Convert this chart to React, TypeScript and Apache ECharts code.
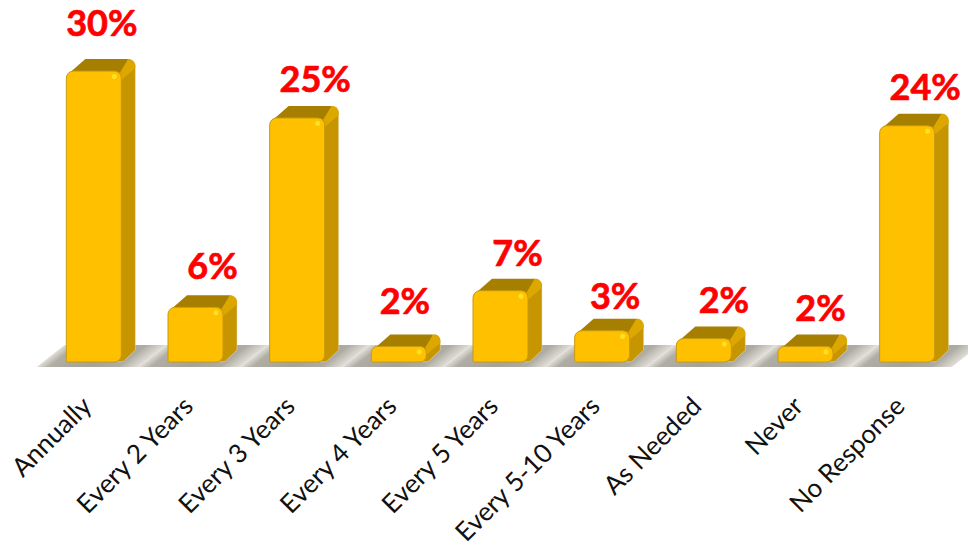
import React, { useEffect, useRef } from "react";
import * as echarts from "echarts";

const categories = ["Annually", "Every 2 Years", "Every 3 Years", "Every 4 Years", "Every 5 Years", "Every 5-10 Years", "As Needed", "Never", "No Response"];
const barHeights = [29.8, 5.6, 25, 1.6, 7.3, 3.2, 2.4, 1.6, 24.2];
const percentLabels = ["30%", "6%", "25%", "2%", "7%", "3%", "2%", "2%", "24%"];
// manual data-label placement: shift from the bar's centre, and lift above the bar's back edge
const labelShift = [8, 17, 18, 6, 17, 13, 20, 15, 18];
const labelLift = [19, 12, 10, 16, 9, 6, 10, 9, 10];

const DX = 14;
const DY = 12;

function arc(cx: number, cy: number, r: number, a0: number, a1: number) {
  const pts: number[][] = [];
  for (let i = 0; i <= 5; i++) {
    const a = ((a0 + ((a1 - a0) * i) / 5) * Math.PI) / 180;
    pts.push([cx + r * Math.cos(a), cy + r * Math.sin(a)]);
  }
  return pts;
}

function renderFloor(params: any, api: any) {
  const i = api.value(0);
  const [cx, base] = api.coord([i, 0]);
  const w = api.size([1, 0])[0];
  const xa = cx - w / 2;
  const xb = cx + w / 2;
  const up = 17;
  const down = 5;
  const k = 28 / 22;
  const pts = [
    [xa - down * k, base + down],
    [xb - down * k, base + down],
    [xb + up * k, base - up],
    [xa + up * k, base - up],
  ];
  const fill = new echarts.graphic.LinearGradient(
    xa,
    base,
    xa + 38.8,
    base + 49.4,
    [
      { offset: 0, color: "#e0ded7" },
      { offset: 0.12, color: "#b0aea4" },
      { offset: 0.5, color: "#a5a399" },
      { offset: 0.8, color: "#aeaca2" },
      { offset: 1, color: "#e0ded7" },
    ],
    true
  );
  return { type: "polygon", shape: { points: pts }, style: { fill }, silent: true };
}

function renderBar(params: any, api: any) {
  const i = api.value(0);
  const [cx, base] = api.coord([i, 0]);
  const top = api.coord([i, api.value(1)])[1];
  const w = 55;
  const x0 = cx - w / 2;
  const x1 = x0 + w;
  const h = base - top;
  const r = Math.min(7, h / 2.5);

  const side = [
    ...arc(x1 + DX - r, top - DY + r, r, -90, 0),
    [x1 + DX, base - DY],
    [x1 + 2, base - 0.5],
    [x1 - 3, base],
    [x1 - 3, top],
  ];
  const topFace = [
    [x0 + 3, top + 2],
    [x0 + DX + 5, top - DY],
    [x1 + DX - 7, top - DY],
    [x1 - 1, top + 1],
  ];
  const bevel = [
    [x1 - 1, top + 1],
    [x1 + DX - 7, top - DY],
    ...arc(x1 + DX - r, top - DY + r, r, -90, 0),
    [x1 + DX, top - DY + r + 2],
    [x1, top + r + 2],
  ];

  return {
    type: "group",
    children: [
      { type: "polygon", shape: { points: side }, style: { fill: "#c69500", stroke: "#e2dcc4", lineWidth: 0.5 } },
      { type: "polygon", shape: { points: topFace }, style: { fill: "#a67e00" } },
      { type: "polygon", shape: { points: bevel }, style: { fill: "#dca800" } },
      {
        type: "rect",
        shape: { x: x0, y: top, width: w, height: h, r: [r, r, r, 1] },
        style: { fill: "#ffc000", stroke: "#c79a10", lineWidth: 1 },
      },
      {
        type: "circle",
        shape: { cx: x1 - 7, cy: top + 5.5, r: 2.6 },
        style: { fill: "#ffe52a", opacity: 0.9 },
      },
      {
        type: "text",
        x: cx + labelShift[i],
        y: top - DY - labelLift[i],
        style: {
          text: percentLabels[i],
          fill: "#ff0000",
          stroke: "#ff0000",
          lineWidth: 0.7,
          font: 'bold 36px Lato, "Noto Sans", sans-serif',
          align: "center",
          verticalAlign: "bottom",
        },
      },
    ],
  };
}

export default function App() {
  const ref = useRef<HTMLDivElement>(null);
  useEffect(() => {
    const chart = echarts.init(ref.current!, null, { renderer: "svg" });
    const data = barHeights.map((v, i) => [i, v]);
    chart.setOption({
      animation: false,
      backgroundColor: "#ffffff",
      grid: { left: 43, right: 10, top: 10.6, bottom: 184, outerBoundsMode: "none" },
      xAxis: {
        type: "category",
        data: categories,
        axisLine: { show: false },
        axisTick: { show: false },
        axisLabel: {
          interval: 0,
          rotate: 45,
          margin: 31,
          padding: [0, 11, 0, 0],
          color: "#111111",
          fontSize: 26,
          fontFamily: 'Lato, "Noto Sans", sans-serif',
        },
      },
      yAxis: { type: "value", min: 0, max: 36, show: false },
      series: [
        { type: "custom", coordinateSystem: "cartesian2d", renderItem: renderFloor, data, z: 1, silent: true, clip: false },
        { type: "custom", coordinateSystem: "cartesian2d", renderItem: renderBar, data, z: 2, silent: true, clip: false },
      ],
    });
    return () => chart.dispose();
  }, []);
  return <div ref={ref} style={{ position: "fixed", left: 0, top: 0, width: 968, height: 546 }} />;
}
